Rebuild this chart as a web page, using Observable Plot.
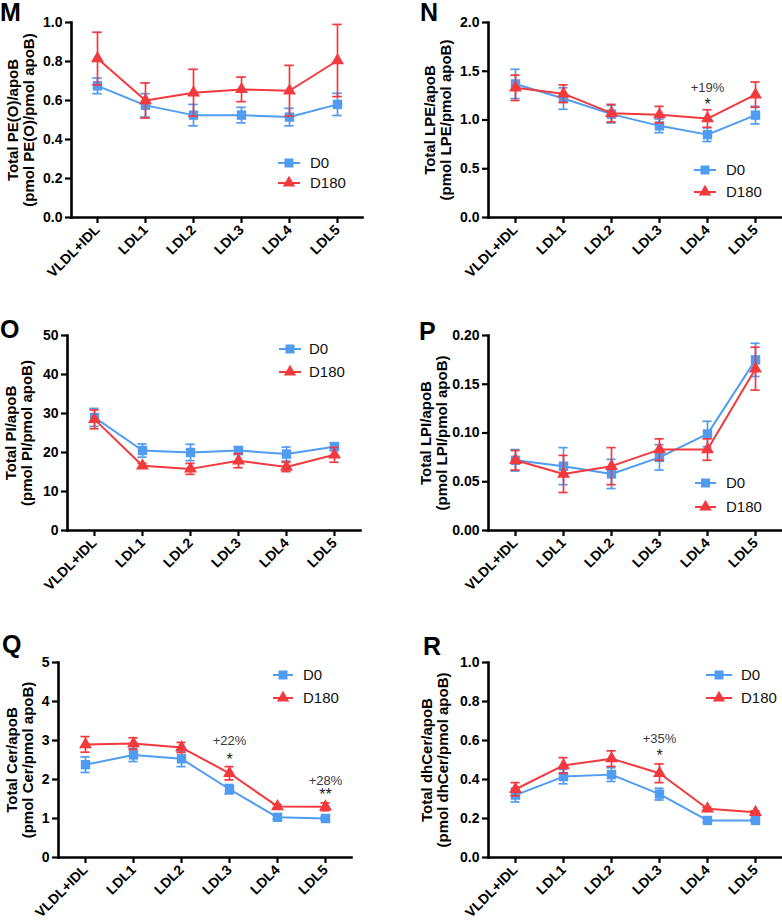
<!DOCTYPE html>
<html><head><meta charset="utf-8">
<script src="https://cdn.jsdelivr.net/npm/d3@7"></script>
<script src="https://cdn.jsdelivr.net/npm/@observablehq/plot@0.6"></script>
<style>
body{margin:0;background:#fff;font-family:"Liberation Sans",Arial,sans-serif;}
#fig{position:relative;width:782px;height:924px;overflow:hidden;background:#fff;}
.panel{position:absolute;}
.letter{position:absolute;font-weight:bold;font-size:25px;line-height:1;color:#000;}
.legend{position:absolute;left:0;top:0;overflow:visible;}
</style></head><body><div id="fig"></div>
<script>
// ---- data ----
const fractions = ["VLDL+IDL","LDL1","LDL2","LDL3","LDL4","LDL5"];
const groups = ["D0","D180"];

// M: PE(O)
const peoD0 = [0.675,0.575,0.525,0.525,0.515,0.58];
const peoD0Err = [0.04,0.06,0.055,0.04,0.045,0.057];
const peoD180 = [0.815,0.60,0.64,0.657,0.65,0.805];
const peoD180Err = [0.135,0.09,0.12,0.063,0.13,0.185];
// N: LPE
const lpeD0 = [1.37,1.22,1.06,0.94,0.85,1.05];
const lpeD0Err = [0.15,0.11,0.09,0.07,0.07,0.09];
const lpeD180 = [1.33,1.27,1.07,1.055,1.015,1.26];
const lpeD180Err = [0.13,0.09,0.09,0.085,0.09,0.13];
// O: PI
const piD0 = [29,20.5,20.0,20.5,19.6,21.5];
const piD0Err = [2.3,1.7,2.1,1.0,1.8,1.0];
const piD180 = [28.5,16.6,15.8,17.9,16.3,19.4];
const piD180Err = [2.4,0.6,1.4,1.8,1.2,1.9];
// P: LPI
const lpiD0 = [0.072,0.066,0.058,0.075,0.099,0.175];
const lpiD0Err = [0.011,0.019,0.015,0.013,0.013,0.017];
const lpiD180 = [0.072,0.058,0.066,0.083,0.083,0.166];
const lpiD180Err = [0.010,0.019,0.019,0.011,0.011,0.022];
// Q: Cer
const cerD0 = [2.38,2.63,2.53,1.75,1.03,1.0];
const cerD0Err = [0.2,0.17,0.2,0.12,0.05,0.04];
const cerD180 = [2.9,2.92,2.82,2.16,1.31,1.3];
const cerD180Err = [0.2,0.15,0.13,0.17,0.05,0.1];
// R: dhCer
const dhcerD0 = [0.32,0.415,0.425,0.325,0.19,0.19];
const dhcerD0Err = [0.035,0.037,0.035,0.03,0.01,0.008];
const dhcerD180 = [0.35,0.472,0.507,0.432,0.25,0.232];
const dhcerD180Err = [0.034,0.04,0.04,0.048,0.006,0.007];

// y-axis ticks
const ticksM = [0,0.2,0.4,0.6,0.8,1.0];
const ticksN = [0,0.5,1.0,1.5,2.0];
const ticksO = [0,10,20,30,40,50];
const ticksP = [0,0.05,0.10,0.15,0.20];
const ticksQ = [0,1,2,3,4,5];
const ticksR = [0,0.2,0.4,0.6,0.8,1.0];

// significance annotations
const annotN = [{fraction:"LDL4", y:1.33, label:"+19%", kind:"pct"},{fraction:"LDL4", y:1.16, label:"*", kind:"star"}];
const annotQ = [{fraction:"LDL3", y:3.0, label:"+22%", kind:"pct"},{fraction:"LDL3", y:2.5, label:"*", kind:"star"},
                {fraction:"LDL5", y:1.97, label:"+28%", kind:"pct"},{fraction:"LDL5", y:1.6, label:"**", kind:"star"}];
const annotR = [{fraction:"LDL3", y:0.61, label:"+35%", kind:"pct"},{fraction:"LDL3", y:0.52, label:"*", kind:"star"}];

const colors = ["#4f9cf2","#f2393d"];
const FONT = "'Liberation Sans', Arial, Helvetica, sans-serif";

// ---- layout ----
const panels = [
  {letter:"M", lx:0, ly:0, left:0, top:0, width:391, height:300, m:[22,29,83,71],
   d0:peoD0, e0:peoD0Err, d1:peoD180, e1:peoD180Err, ticks:ticksM, fmt:".1f",
   title:"Total PE(O)/apoB\n(pmol PE(O)/pmol apoB)", tdx:-51, annot:[],
   leg:{rows:[163,183], x0:278, x1:300, tx:310}},
  {letter:"N", lx:420, ly:0, left:391, top:0, width:391, height:300, m:[22,1,83,97],
   d0:lpeD0, e0:lpeD0Err, d1:lpeD180, e1:lpeD180Err, ticks:ticksN, fmt:".1f",
   title:"Total LPE/apoB\n(pmol LPE/pmol apoB)", tdx:-51, annot:annotN,
   leg:{rows:[170,192], x0:694, x1:716, tx:726}},
  {letter:"O", lx:0, ly:317, left:0, top:300, width:391, height:310, m:[35,31,80,67],
   d0:piD0, e0:piD0Err, d1:piD180, e1:piD180Err, ticks:ticksO, fmt:"d",
   title:"Total PI/apoB\n(pmol PI/pmol apoB)", tdx:-49, annot:[],
   leg:{rows:[349,372], x0:279, x1:301, tx:309}},
  {letter:"P", lx:419, ly:319, left:391, top:300, width:391, height:310, m:[35,1,80,97],
   d0:lpiD0, e0:lpiD0Err, d1:lpiD180, e1:lpiD180Err, ticks:ticksP, fmt:".2f",
   title:"Total LPI/apoB\n(pmol LPI/pmol apoB)", tdx:-55, annot:[],
   leg:{rows:[483,507], x0:695, x1:716, tx:726}},
  {letter:"Q", lx:2, ly:632, left:0, top:610, width:391, height:314, m:[52,40,67,58],
   d0:cerD0, e0:cerD0Err, d1:cerD180, e1:cerD180Err, ticks:ticksQ, fmt:"d",
   title:"Total Cer/apoB\n(pmol Cer/pmol apoB)", tdx:-39, annot:annotQ,
   leg:{rows:[675,698], x0:273, x1:293, tx:303}},
  {letter:"R", lx:423, ly:634, left:391, top:610, width:391, height:314, m:[52,1,67,97],
   d0:dhcerD0, e0:dhcerD0Err, d1:dhcerD180, e1:dhcerD180Err, ticks:ticksR, fmt:".1f",
   title:"Total dhCer/apoB\n(pmol dhCer/pmol apoB)", tdx:-54, annot:annotR,
   leg:{rows:[675,698], x0:706, x1:732, tx:741}}
];

const fig = document.getElementById("fig");

function rowsOf(vals, errs, group) {
  return fractions.map((f, i) => ({fraction:f, group, mean:vals[i], err:errs[i]}));
}

function seriesMarks(rows, color, symbol, r, capInset) {
  return [
    Plot.ruleX(rows, {x:"fraction", y1:d=>d.mean-d.err, y2:d=>d.mean+d.err, stroke:color, strokeWidth:1.7}),
    Plot.tickY(rows, {x:"fraction", y:d=>d.mean+d.err, stroke:color, strokeWidth:1.7, insetLeft:capInset, insetRight:capInset}),
    Plot.tickY(rows, {x:"fraction", y:d=>d.mean-d.err, stroke:color, strokeWidth:1.7, insetLeft:capInset, insetRight:capInset}),
    Plot.line(rows, {x:"fraction", y:"mean", stroke:color, strokeWidth:2}),
    Plot.dot(rows, {x:"fraction", y:"mean", symbol, r, fill:color, stroke:"none"})
  ];
}

for (const p of panels) {
  const r0 = rowsOf(p.d0, p.e0, "D0");
  const r1 = rowsOf(p.d1, p.e1, "D180");
  const [mt, mr, mb, ml] = p.m;
  const step = (p.width - ml - mr) / fractions.length;
  const capInset = step / 2 - 5;
  const chart = Plot.plot({
    width:p.width, height:p.height,
    marginTop:mt, marginRight:mr, marginBottom:mb, marginLeft:ml,
    style:{fontFamily:FONT, fontSize:"14px", fontWeight:"bold", color:"#000", background:"transparent", overflow:"visible"},
    x:{type:"band", domain:fractions, padding:0, label:null},
    y:{domain:[p.ticks[0], p.ticks[p.ticks.length-1]], label:null},
    marks:[
      Plot.axisX({tickRotate:-45, tickSize:6, tickPadding:4, strokeWidth:2.2, label:null, fontSize:14, fontWeight:"bold"}),
      Plot.axisY({ticks:p.ticks, tickFormat:d3.format(p.fmt), tickSize:6, tickPadding:3, strokeWidth:2.2, label:null, fontSize:14, fontWeight:"bold"}),
      Plot.frame({anchor:"left", strokeWidth:2.6, stroke:"#000"}),
      Plot.frame({anchor:"bottom", strokeWidth:2.6, stroke:"#000"}),
      Plot.text([p.title], {frameAnchor:"left", text:d=>d, rotate:-90, dx:p.tdx, textAnchor:"middle", lineAnchor:"middle", fontSize:15, fontWeight:"bold", lineHeight:1.1, fill:"#000"}),
      ...seriesMarks(r0, colors[0], "square", 5.3, capInset),
      ...seriesMarks(r1, colors[1], "triangle", 4.8, capInset),
      Plot.text(p.annot.filter(a=>a.kind==="pct"), {x:"fraction", y:"y", text:"label", fontSize:13, fontWeight:"normal", fill:"#3a3a3a"}),
      Plot.text(p.annot.filter(a=>a.kind==="star"), {x:"fraction", y:"y", text:"label", fontSize:16, fontWeight:"normal", fill:"#222"})
    ]
  });
  const wrap = document.createElement("div");
  wrap.className = "panel";
  wrap.style.left = p.left + "px";
  wrap.style.top = p.top + "px";
  wrap.appendChild(chart);
  fig.appendChild(wrap);

  const L = document.createElement("div");
  L.className = "letter";
  L.style.left = p.lx + "px";
  L.style.top = p.ly + "px";
  L.textContent = p.letter;
  fig.appendChild(L);
}

// legends (page coordinates)
const legSvg = d3.select(fig).append("svg").attr("class","legend").attr("width",782).attr("height",924);
for (const p of panels) {
  groups.forEach((g, i) => {
    const y = p.leg.rows[i];
    const c = colors[i];
    const G = legSvg.append("g");
    G.append("line").attr("x1",p.leg.x0).attr("x2",p.leg.x1).attr("y1",y).attr("y2",y).attr("stroke",c).attr("stroke-width",2);
    const cx = (p.leg.x0 + p.leg.x1)/2;
    if (i === 0) {
      G.append("rect").attr("x",cx-4.5).attr("y",y-4.5).attr("width",9).attr("height",9).attr("fill",c);
    } else {
      G.append("path").attr("d", d3.symbol(d3.symbolTriangle, Math.PI*4.6*4.6)()).attr("transform",`translate(${cx},${y})`).attr("fill",c);
    }
    G.append("text").attr("x",p.leg.tx).attr("y",y).attr("dy","0.36em")
      .attr("font-family",FONT).attr("font-size",15).attr("fill","#111").text(g);
  });
}
</script></body></html>
